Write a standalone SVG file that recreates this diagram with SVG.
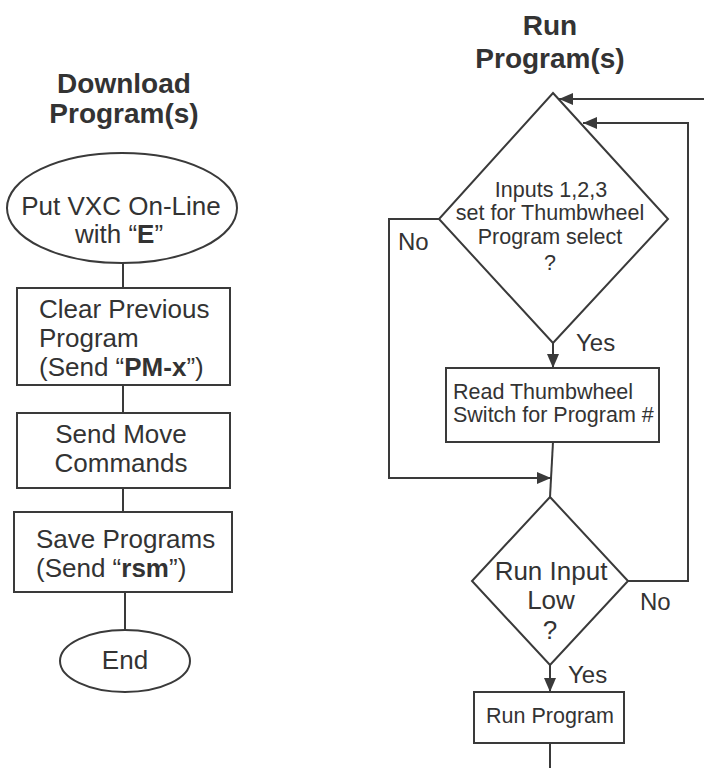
<svg xmlns="http://www.w3.org/2000/svg" width="704" height="768" viewBox="0 0 704 768">
  <style>
    .shape { fill: #ffffff; stroke: #3a3a3a; stroke-width: 2; }
    .wire { fill: none; stroke: #3a3a3a; stroke-width: 2; }
    text { font-family: "Liberation Sans", Arial, sans-serif; fill: #333333; }
    .title { font-size: 28px; font-weight: bold; text-anchor: middle; }
    .big { font-size: 26px; }
    .small { font-size: 21.5px; }
    .label { font-size: 24px; }
    .mid { text-anchor: middle; }
    .b { font-weight: bold; }
  </style>
  <defs>
    <marker id="arrow" viewBox="0 0 14 12" refX="14" refY="6" markerWidth="14" markerHeight="12" markerUnits="userSpaceOnUse" orient="auto">
      <path d="M0,0 L14,6 L0,12 Z" fill="#3a3a3a"/>
    </marker>
  </defs>

  <!-- Titles -->
  <g id="title-download">
    <text class="title" x="124" y="93">Download</text>
    <text class="title" x="124" y="123">Program(s)</text>
  </g>
  <g id="title-run">
    <text class="title" x="550" y="35">Run</text>
    <text class="title" x="550" y="68">Program(s)</text>
  </g>

  <!-- Connectors -->
  <g id="connectors">
    <!-- download column -->
    <line class="wire" x1="123" y1="263" x2="123" y2="288"/>
    <line class="wire" x1="123" y1="385" x2="123" y2="413"/>
    <line class="wire" x1="123" y1="488" x2="123" y2="512"/>
    <line class="wire" x1="125" y1="592" x2="125" y2="630"/>
    <!-- run column -->
    <path class="wire" d="M704,99 L559,99" marker-end="url(#arrow)"/>
    <path class="wire" d="M628,581 L688,581 L688,123 L583,123" marker-end="url(#arrow)"/>
    <path class="wire" d="M439,219 L389,219 L389,478 L551,478" marker-end="url(#arrow)"/>
    <path class="wire" d="M553,343 L553,368" marker-end="url(#arrow)"/>
    <path class="wire" d="M553,442 L550,497"/>
    <path class="wire" d="M550,665 L550,692" marker-end="url(#arrow)"/>
    <path class="wire" d="M550,743 L550,768"/>
  </g>

  <!-- Download column nodes -->
  <g id="online">
    <ellipse class="shape" cx="122" cy="208" rx="115" ry="55"/>
    <text class="big mid" x="121" y="215">Put VXC On-Line</text>
    <text class="big mid" x="119" y="243">with “<tspan class="b">E</tspan>”</text>
  </g>
  <g id="clear">
    <rect class="shape" x="17" y="288" width="213" height="97"/>
    <text class="big" x="39" y="318">Clear Previous</text>
    <text class="big" x="39" y="347">Program</text>
    <text class="big" x="39" y="376">(Send “<tspan class="b">PM-x</tspan>”)</text>
  </g>
  <g id="send-moves">
    <rect class="shape" x="17" y="413" width="213" height="75"/>
    <text class="big mid" x="121" y="443">Send Move</text>
    <text class="big mid" x="121" y="472">Commands</text>
  </g>
  <g id="save">
    <rect class="shape" x="14" y="512" width="218" height="80"/>
    <text class="big" x="36" y="548">Save Programs</text>
    <text class="big" x="36" y="577">(Send “<tspan class="b">rsm</tspan>”)</text>
  </g>
  <g id="end">
    <ellipse class="shape" cx="125" cy="661" rx="65" ry="31"/>
    <text class="big mid" x="125" y="669">End</text>
  </g>

  <!-- Run column nodes -->
  <g id="thumb-select">
    <polygon class="shape" points="553,93 668,219 553,343 439,219"/>
    <text class="small mid" x="551" y="197">Inputs 1,2,3</text>
    <text class="small mid" x="550" y="220">set for Thumbwheel</text>
    <text class="small mid" x="550" y="244">Program select</text>
    <text class="small mid" x="550" y="270">?</text>
  </g>
  <g id="read-thumb">
    <rect class="shape" x="446" y="368" width="213" height="74"/>
    <text class="small" x="453" y="399">Read Thumbwheel</text>
    <text class="small" x="453" y="422">Switch for Program #</text>
  </g>
  <g id="run-input">
    <polygon class="shape" points="550,497 628,581 550,665 472,581"/>
    <text class="big mid" x="551" y="580">Run Input</text>
    <text class="big mid" x="551" y="609">Low</text>
    <text class="big mid" x="550" y="639">?</text>
  </g>
  <g id="run-program">
    <rect class="shape" x="474" y="692" width="150" height="51"/>
    <text class="small mid" x="550" y="723">Run Program</text>
  </g>

  <!-- Branch labels -->
  <g id="labels">
    <text class="label" x="398" y="250">No</text>
    <text class="label" x="576" y="351">Yes</text>
    <text class="label" x="640" y="610">No</text>
    <text class="label" x="568" y="683">Yes</text>
  </g>
</svg>
